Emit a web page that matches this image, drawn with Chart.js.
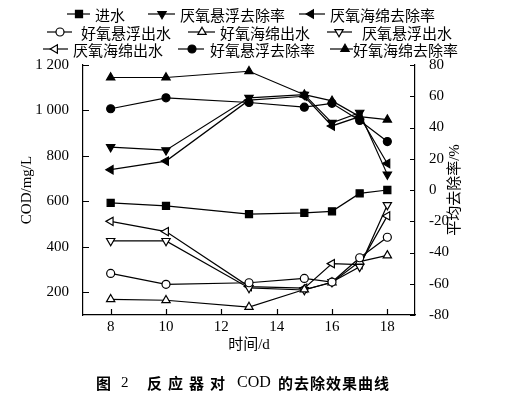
<!DOCTYPE html>
<html><head><meta charset="utf-8">
<script src="https://cdn.jsdelivr.net/npm/chart.js@4.4.1/dist/chart.umd.min.js"></script>
<style>html,body{margin:0;padding:0;background:#fff;}#wrap{width:508px;height:398px;}</style>
</head><body><div id="wrap"><canvas id="c" width="508" height="398"></canvas></div>
<script>
// ---- data ----
const days = [8, 10, 13, 15, 16, 17, 18];
const xTickValues = [8, 10, 12, 14, 16, 18];
const codTickValues = [200, 400, 600, 800, 1000, 1200];
const rateTickValues = [-80, -60, -40, -20, 0, 20, 40, 60, 80];

const influentCOD      = [593, 580, 544, 549, 556, 635, 650];   // 进水
const anaSuspRemoval   = [27.5, 25.5, 59, 61, 43, 49.5, 10];     // 厌氧悬浮去除率
const anaSpongeRemoval = [13, 18.5, 57.5, 60, 41, 47, 17];       // 厌氧海绵去除率
const aerSuspEffluent  = [283, 235, 242, 261, 245, 352, 442];    // 好氧悬浮出水
const aerSpongeEffluent= [169, 165, 135, 212, 243, 335, 362];    // 好氧海绵出水
const anaSuspEffluent  = [426, 426, 219, 210, 245, 312, 584];    // 厌氧悬浮出水
const anaSpongeEffluent= [512, 467, 225, 218, 326, 322, 536];    // 厌氧海绵出水
const aerSuspRemoval   = [52, 59, 56, 53, 55.5, 44.5, 31];       // 好氧悬浮去除率
const aerSpongeRemoval = [72, 72, 76, 61, 57, 47, 45];           // 好氧海绵去除率

const labels = ['进水','厌氧悬浮去除率','厌氧海绵去除率','好氧悬浮出水','好氧海绵出水','厌氧悬浮出水','厌氧海绵出水','好氧悬浮去除率','好氧海绵去除率'];
const xTitle = '时间/d';
const yLeftTitle = 'COD/mg/L';
const yRightTitle = '平均去除率/%';

// ---- build datasets ----
const pts = arr => days.map((d, i) => ({x: d, y: arr[i]}));
function ds(label, arr, axis, style, rot, filled, r) {
  return {
    label, data: pts(arr), yAxisID: axis,
    borderColor: '#000', borderWidth: 1.2,
    pointStyle: style, pointRotation: rot, pointRadius: r,
    pointBackgroundColor: filled ? '#000' : '#fff', pointBorderColor: '#000', pointBorderWidth: 1.2,
    fill: false, tension: 0
  };
}
const datasets = [
  ds(labels[0], influentCOD, 'yL', 'rect', 0, true, 5),
  ds(labels[1], anaSuspRemoval, 'yR', 'triangle', 180, true, 4.8),
  ds(labels[2], anaSpongeRemoval, 'yR', 'triangle', 270, true, 4.8),
  ds(labels[3], aerSuspEffluent, 'yL', 'circle', 0, false, 4),
  ds(labels[4], aerSpongeEffluent, 'yL', 'triangle', 0, false, 4.8),
  ds(labels[5], anaSuspEffluent, 'yL', 'triangle', 180, false, 4.8),
  ds(labels[6], anaSpongeEffluent, 'yL', 'triangle', 270, false, 4.8),
  ds(labels[7], aerSuspRemoval, 'yR', 'circle', 0, true, 4),
  ds(labels[8], aerSpongeRemoval, 'yR', 'triangle', 0, true, 4.8)
];

const SERIF = "'Liberation Serif','Noto Sans CJK SC',serif";
const CJK = "'Noto Sans CJK SC',sans-serif";

// legend layout: [datasetIndex, rowY, lineX1, lineX2, markerX, textX]
const legendLayout = [
  [0, 14, 67, 90, 79, 95],
  [1, 14, 148, 175, 162, 180],
  [2, 14, 299, 325, 311, 330],
  [3, 32, 47, 72, 60, 81],
  [4, 32, 188, 215, 202, 220],
  [5, 32, 327, 352, 339, 362],
  [6, 49, 43, 68, 55, 73],
  [7, 49, 178, 204, 192, 210],
  [8, 49, 330, 353, 345, 353]
];

const decorPlugin = {
  id: 'decor',
  afterDraw(chart) {
    const ctx = chart.ctx;
    const {x, yL, yR} = chart.scales;
    const ca = chart.chartArea;
    ctx.save();
    ctx.strokeStyle = '#000';
    ctx.lineWidth = 1.2;
    // inward tick marks
    ctx.beginPath();
    xTickValues.forEach(v => { const p = Math.round(x.getPixelForValue(v)) + 0.5; ctx.moveTo(p, ca.bottom); ctx.lineTo(p, ca.bottom - 6); });
    codTickValues.forEach(v => { const p = Math.round(yL.getPixelForValue(v)) + 0.5; ctx.moveTo(ca.left, p); ctx.lineTo(ca.left + 6, p); });
    rateTickValues.forEach(v => { const p = Math.round(yR.getPixelForValue(v)) + 0.5; ctx.moveTo(ca.right, p); ctx.lineTo(ca.right - 5, p); });
    ctx.stroke();

    // legend
    ctx.font = '15px ' + CJK;
    ctx.textBaseline = 'middle';
    ctx.textAlign = 'left';
    legendLayout.forEach(([i, y, x1, x2, mx, tx]) => {
      const d = chart.data.datasets[i];
      ctx.strokeStyle = '#000'; ctx.lineWidth = 1.2;
      ctx.beginPath(); ctx.moveTo(x1, y); ctx.lineTo(x2, y); ctx.stroke();
      ctx.fillStyle = d.pointBackgroundColor; ctx.strokeStyle = '#000';
      Chart.helpers.drawPoint(ctx, {pointStyle: d.pointStyle, rotation: d.pointRotation, radius: d.pointRadius, borderWidth: 1.2}, mx, y);
      ctx.fillStyle = '#000';
      ctx.fillText(d.label, tx, y + 1);
    });

    // right axis title (reads bottom-to-top)
    ctx.save();
    ctx.translate(455, 190);
    ctx.rotate(-Math.PI / 2);
    ctx.textAlign = 'center';
    ctx.font = '15px ' + SERIF;
    ctx.fillText(yRightTitle, 0, 0);
    ctx.restore();

    // caption
    ctx.textAlign = 'left';
    ctx.fillStyle = '#000';
    const cy = 383;
    ctx.font = 'bold 15px ' + CJK;
    ctx.fillText('图', 96, cy);
    ctx.font = '15px ' + SERIF;
    ctx.fillText('2', 121, cy);
    ctx.font = 'bold 15px ' + CJK;
    ctx.letterSpacing = '6px';
    ctx.fillText('反应器对', 147, cy);
    ctx.letterSpacing = '0px';
    ctx.font = '16px ' + SERIF;
    ctx.fillText('COD', 237, cy);
    ctx.font = 'bold 15px ' + CJK;
    ctx.letterSpacing = '1px';
    ctx.fillText('的去除效果曲线', 278, cy);
    ctx.letterSpacing = '0px';
    ctx.restore();
  }
};

new Chart(document.getElementById('c'), {
  type: 'line',
  data: {datasets},
  options: {
    responsive: false, animation: false, devicePixelRatio: 1,
    layout: {padding: {top: 65, left: 0, right: 0, bottom: 0}},
    plugins: {legend: {display: false}, tooltip: {enabled: false}},
    scales: {
      x: {
        type: 'linear', position: 'bottom', min: 7, max: 19,
        afterBuildTicks: s => { s.ticks = xTickValues.map(v => ({value: v})); },
        afterFit: s => { s.height = 83; },
        grid: {display: false},
        border: {display: true, color: '#000', width: 1.2},
        ticks: {color: '#000', padding: -5, font: {family: SERIF, size: 15}, maxRotation: 0},
        title: {display: true, text: xTitle, color: '#000', font: {family: SERIF, size: 15}, padding: {top: 0, bottom: 44}}
      },
      yL: {
        type: 'linear', position: 'left', min: 100, max: 1200,
        afterBuildTicks: s => { s.ticks = codTickValues.map(v => ({value: v})); },
        afterFit: s => { s.width = 83; },
        grid: {display: false},
        border: {display: true, color: '#000', width: 1.2},
        ticks: {color: '#000', padding: 6, font: {family: SERIF, size: 15},
          callback: v => v >= 1000 ? Math.floor(v / 1000) + ' ' + String(v % 1000).padStart(3, '0') : String(v)},
        title: {display: true, text: yLeftTitle, color: '#000', font: {family: SERIF, size: 15}, padding: {top: 18, bottom: 0}}
      },
      yR: {
        type: 'linear', position: 'right', min: -80, max: 80,
        afterBuildTicks: s => { s.ticks = rateTickValues.map(v => ({value: v})); },
        afterFit: s => { s.width = 93; },
        grid: {display: false},
        border: {display: true, color: '#000', width: 1.2},
        ticks: {color: '#000', padding: 6, font: {family: SERIF, size: 15}},
        title: {display: false}
      }
    }
  },
  plugins: [decorPlugin]
});
</script>
</body></html>
